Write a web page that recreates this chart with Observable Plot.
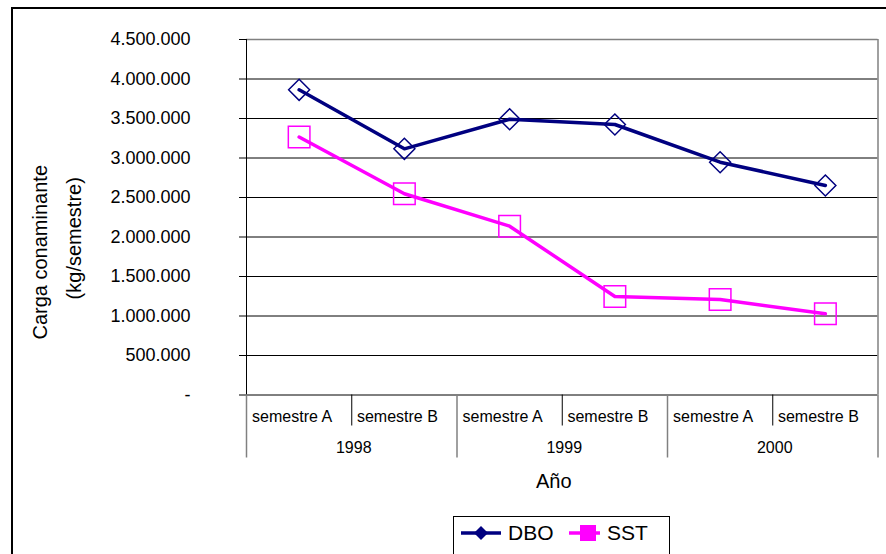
<!DOCTYPE html>
<html>
<head>
<meta charset="utf-8">
<script src="https://cdn.jsdelivr.net/npm/d3@7"></script>
<script src="https://cdn.jsdelivr.net/npm/@observablehq/plot@0.6"></script>
<style>
  html, body { margin: 0; padding: 0; background: #fff; overflow: hidden; }
  #wrap { position: relative; width: 886px; height: 554px; overflow: hidden; font-family: "Liberation Sans", Arial, sans-serif; }
  #border { position: absolute; left: 11px; top: 7px; width: 900px; height: 600px; border: 2px solid #000; box-sizing: border-box; }
  #chart { position: absolute; left: 0; top: 0; }
  #legend { position: absolute; left: 453px; top: 516px; width: 217px; height: 60px; border: 1px solid #000; box-sizing: border-box; background: #fff; }
  .item { position: absolute; top: 4px; display: flex; align-items: center; font-size: 21px; color: #000; }
  .item svg { margin-right: 6px; }
</style>
</head>
<body>
<div id="wrap">
  <div id="border"></div>
  <div id="chart"></div>
  <div id="legend">
    <div class="item" style="left:7px"><svg width="41" height="24"><line x1="0" y1="12" x2="40" y2="12" stroke="#000080" stroke-width="3.5"/><path d="M20,5 L27,12 L20,19 L13,12 Z" fill="#000080"/></svg>DBO</div>
    <div class="item" style="left:115px"><svg width="32" height="24"><line x1="0" y1="12" x2="31" y2="12" stroke="#FF00FF" stroke-width="3.5"/><rect x="11" y="4" width="16" height="16" fill="#FF00FF"/></svg>SST</div>
  </div>
</div>
<script>
const semesters = ["semestre A", "semestre B", "semestre A", "semestre B", "semestre A", "semestre B"];
const years = ["1998", "1999", "2000"];
const dbo = [3863000, 3116000, 3491000, 3424000, 2947000, 2652000];
const sst = [3265000, 2547000, 2137000, 1247000, 1209000, 1028000];
const yTicks = [0, 500000, 1000000, 1500000, 2000000, 2500000, 3000000, 3500000, 4000000, 4500000];
const yTitle = ["Carga conaminante", "(kg/semestre)"];
const xTitle = "Año";

const rows = semesters.map((s, i) => ({pos: i + 0.5, dbo: dbo[i], sst: sst[i]}));
const semesterInner = [1, 3, 5];
const yearBounds = [0, 2, 4, 6];
const yearCenters = [1, 3, 5];

const fmt = d => d === 0 ? "-" : d3.format(",")(d).replace(/,/g, ".");

const diamond = {draw(ctx, size) { const r = Math.sqrt(size / Math.PI); ctx.moveTo(0, -r); ctx.lineTo(r, 0); ctx.lineTo(0, r); ctx.lineTo(-r, 0); ctx.closePath(); }};
const square = {draw(ctx, size) { const r = Math.sqrt(size / Math.PI); ctx.moveTo(-r, -r); ctx.lineTo(r, -r); ctx.lineTo(r, r); ctx.lineTo(-r, r); ctx.closePath(); }};

const chart = Plot.plot({
  width: 886,
  height: 554,
  marginLeft: 246,
  marginRight: 8.5,
  marginTop: 39,
  marginBottom: 159.5,
  style: {fontFamily: "'Liberation Sans', Arial, sans-serif", background: "transparent", color: "#000", overflow: "visible"},
  x: {type: "linear", domain: [0, 6], axis: null},
  y: {domain: [0, 4500000], axis: null},
  marks: [
    Plot.ruleY(yTicks, {stroke: "#000", strokeWidth: 1}),
    Plot.ruleY([4500000], {stroke: "#808080", strokeWidth: 1.5}),
    Plot.ruleX([6], {stroke: "#808080", strokeWidth: 1.5}),
    Plot.ruleX([0], {stroke: "#000", strokeWidth: 1}),
    Plot.axisY({ticks: yTicks, tickSize: 7, tickPadding: 49, fontSize: 18, tickFormat: fmt, label: null, stroke: "#000"}),
    Plot.axisX({ticks: yearBounds, tickSize: 63, tickFormat: () => "", label: null, stroke: "#808080", strokeWidth: 1.5}),
    Plot.axisX({ticks: semesterInner, tickSize: 31, tickFormat: () => "", label: null, stroke: "#000"}),
    Plot.axisX({ticks: rows.map(r => r.pos), tickSize: 0, tickPadding: 15.6, fontSize: 16, dx: -7, tickFormat: (d, i) => semesters[i], label: null}),
    Plot.axisX({ticks: yearCenters, tickSize: 0, tickPadding: 47, fontSize: 16, dx: 2, tickFormat: (d, i) => years[i], label: null}),
    Plot.text([xTitle], {frameAnchor: "bottom", textAnchor: "middle", dx: -8.5, dy: 93, fontSize: 20, fill: "#000"}),
    Plot.text([yTitle[0]], {frameAnchor: "left", textAnchor: "middle", rotate: -90, dx: -206, dy: 35, fontSize: 20, fill: "#000"}),
    Plot.text([yTitle[1]], {frameAnchor: "left", textAnchor: "middle", rotate: -90, dx: -172, dy: 21, fontSize: 20, fill: "#000"}),
    Plot.line(rows, {x: "pos", y: "dbo", stroke: "#000080", strokeWidth: 3.5}),
    Plot.line(rows, {x: "pos", y: "sst", stroke: "#FF00FF", strokeWidth: 3.5}),
    Plot.dot(rows, {x: "pos", y: "dbo", symbol: diamond, r: 10.5, stroke: "#000080", fill: "none", strokeWidth: 1.5}),
    Plot.dot(rows, {x: "pos", y: "sst", symbol: square, r: 10.8, stroke: "#FF00FF", fill: "none", strokeWidth: 1.5})
  ]
});
document.getElementById("chart").appendChild(chart);
</script>
</body>
</html>
